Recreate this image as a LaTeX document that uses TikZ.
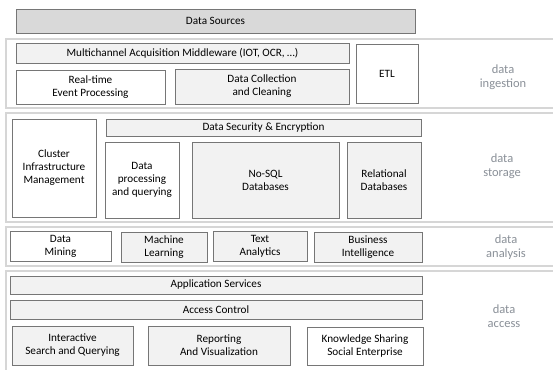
\documentclass[tikz,border=0pt]{standalone}
\usepackage{fontspec}
\setmainfont{Carlito}
\definecolor{boxline}{HTML}{767676}
\definecolor{bandline}{HTML}{D6D6D6}
\definecolor{darkfill}{HTML}{D9D9D9}
\definecolor{lightfill}{HTML}{F2F2F2}
\definecolor{layertext}{HTML}{8A9098}
\begin{document}
\begin{tikzpicture}[x=1pt,y=-1pt,
  blk/.style={draw=boxline, line width=0.9pt, inner sep=0pt, align=center,
    font=\fontsize{11.2}{13}\selectfont, text=black},
  dark/.style={blk, fill=darkfill},
  light/.style={blk, fill=lightfill},
  plain/.style={blk, fill=white},
  band/.style={draw=bandline, line width=1.3pt, fill=white},
  layer/.style={align=center, text=layertext, font=\fontsize{12.5}{14}\selectfont}]
\useasboundingbox[fill=white] (0,0) rectangle (553,369);

% layer bands
\draw[band] (6,39) rectangle (560,108);
\draw[band] (6,113) rectangle (560,222);
\draw[band] (6,227) rectangle (560,266);
\draw[band] (6,271) rectangle (560,380);

% sources
\node[dark, minimum width=399, minimum height=24] (src) at (215.5,21) {Data Sources};

% ingestion
\node[light, minimum width=333, minimum height=20] (mcam) at (182.5,53) {Multichannel Acquisition Middleware (IOT, OCR, \dots)};
\node[plain, minimum width=149, minimum height=34] (rtep) at (90.5,87) {Real-time\\Event Processing};
\node[light, minimum width=174, minimum height=35] (dcc) at (262,86.5) {Data Collection\\and Cleaning};
\node[plain, minimum width=62, minimum height=59] (etl) at (387,73.5) {ETL};
\node[layer] (ling) at (503,77) {data\\ingestion};

% storage
\node[plain, minimum width=84, minimum height=98] (cim) at (54,168) {Cluster\\Infrastructure\\Management};
\node[light, minimum width=315, minimum height=17] (sec) at (263.5,127.5) {Data Security \& Encryption};
\node[plain, minimum width=74, minimum height=76] (dpq) at (142,180) {Data\\processing\\and querying};
\node[light, minimum width=147, minimum height=76] (nosql) at (265.5,180) {No-SQL\\Databases};
\node[light, minimum width=74, minimum height=76] (rdb) at (384,180) {Relational\\Databases};
\node[layer] (lsto) at (502,166) {data\\storage};

% analysis
\node[plain, minimum width=101, minimum height=30] (dm) at (60.5,246) {Data\\Mining};
\node[light, minimum width=86, minimum height=30] (ml) at (164,247) {Machine\\Learning};
\node[light, minimum width=94, minimum height=30] (ta) at (260,246) {Text\\Analytics};
\node[light, minimum width=108, minimum height=30] (bi) at (368,247) {Business\\Intelligence};
\node[layer] (lana) at (506,247) {data\\analysis};

% access
\node[light, minimum width=412, minimum height=18] (apps) at (216,285) {Application Services};
\node[light, minimum width=412, minimum height=19] (acc) at (216,309.5) {Access Control};
\node[light, minimum width=121, minimum height=39] (isq) at (72.5,345.5) {Interactive\\Search and Querying};
\node[light, minimum width=142, minimum height=39] (rav) at (219,345.5) {Reporting\\And Visualization};
\node[plain, minimum width=116, minimum height=38] (kss) at (365,346) {Knowledge Sharing\\Social Enterprise};
\node[layer] (lacc) at (504,316) {data\\access};
\end{tikzpicture}
\end{document}
